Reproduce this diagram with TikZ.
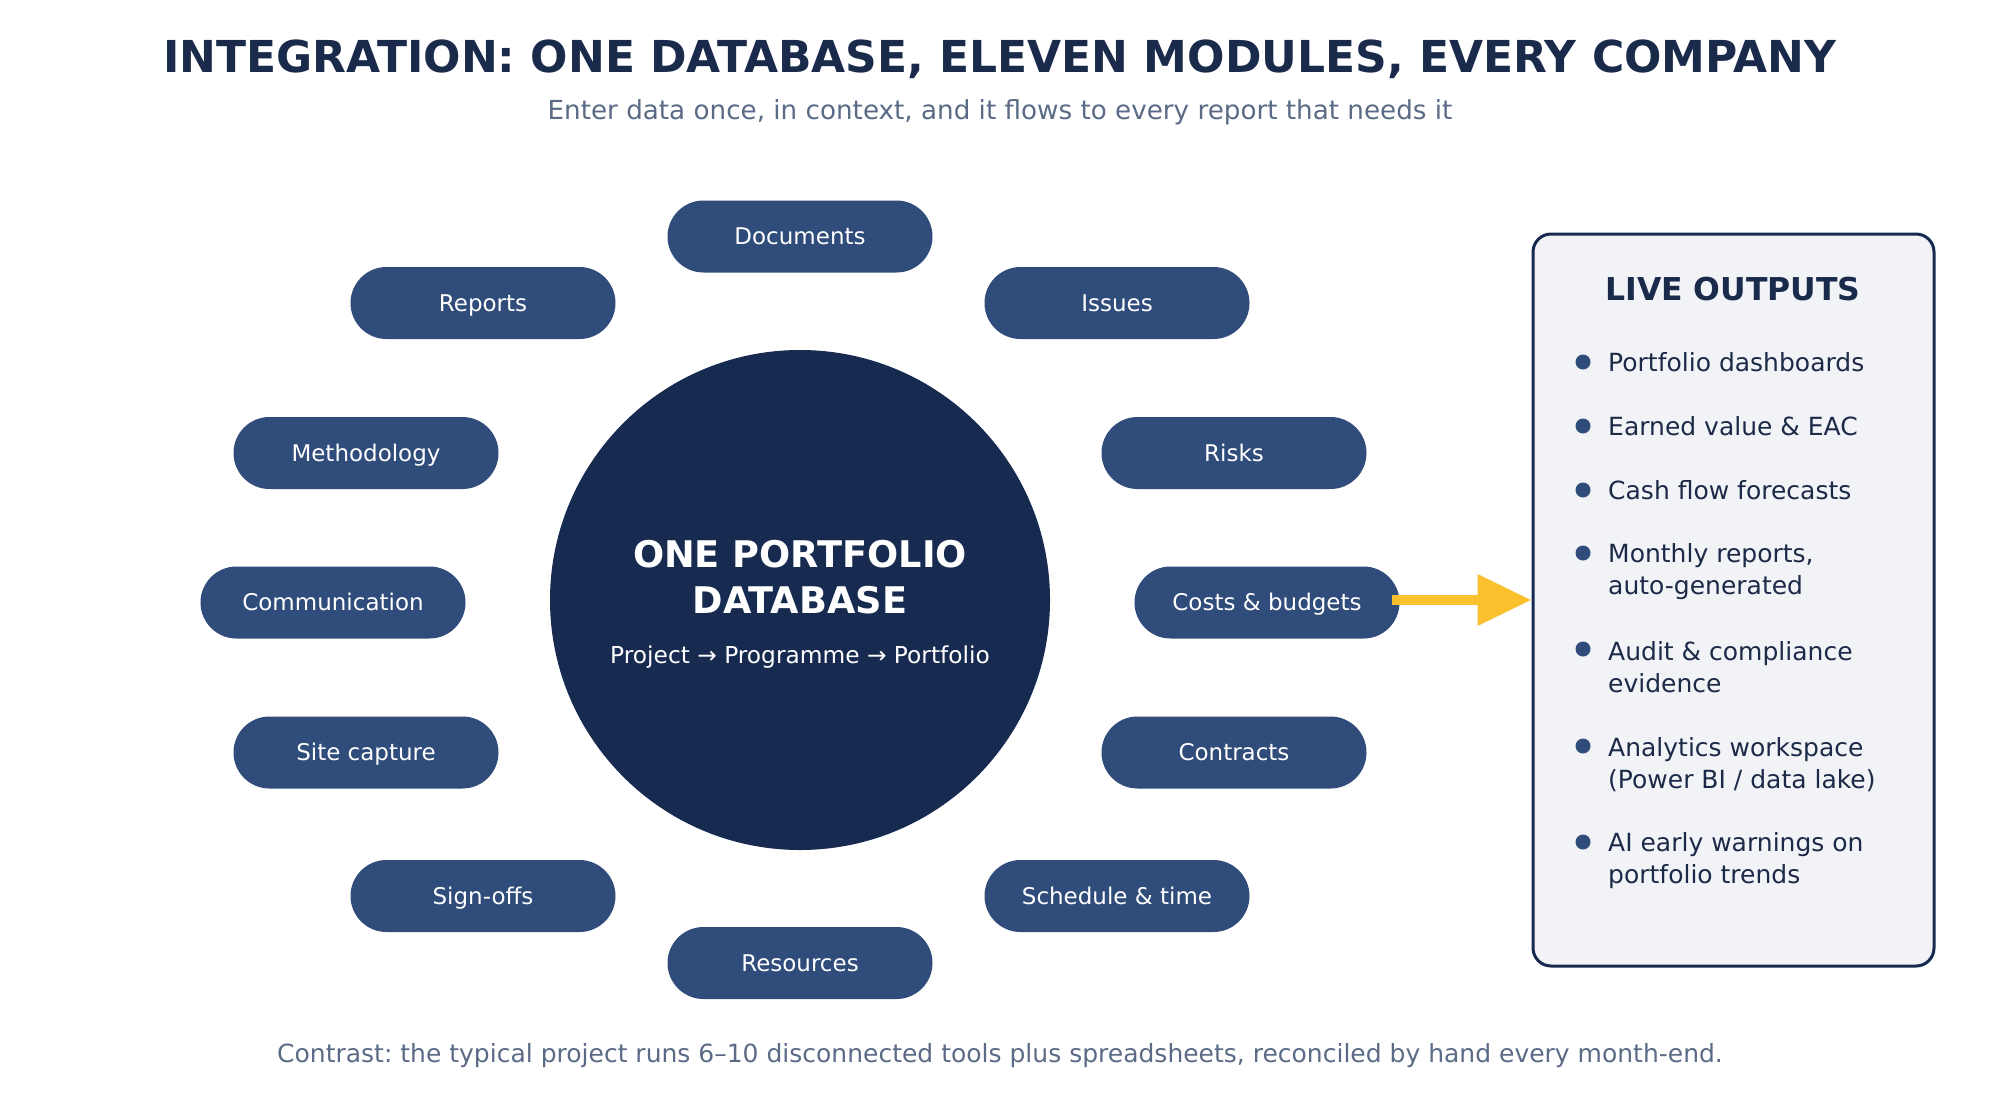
\documentclass[tikz,border=0pt]{standalone}
\usepackage{fontspec}
\setmainfont{DejaVu Sans}
\usetikzlibrary{arrows.meta}
\frenchspacing
\definecolor{navy}{HTML}{172A4F}
\definecolor{pillc}{HTML}{2F4C7A}
\definecolor{titlec}{HTML}{1A2A4B}
\definecolor{subc}{HTML}{5B6B86}
\definecolor{boxfill}{HTML}{F1F3F7}
\definecolor{itemc}{HTML}{1C2A48}
\definecolor{arrowc}{HTML}{FBC02D}
\tikzset{
  pill/.style={rectangle, rounded corners=36pt, fill=pillc, minimum width=265pt, minimum height=72pt, inner sep=0pt, text=white, text height=16.8pt, text depth=0pt, font=\fontsize{23}{27}\selectfont},
  itemtext/.style={anchor=west, inner sep=0pt, align=left, text=itemc, font=\fontsize{25}{32}\selectfont},
  dot/.style={circle, fill=pillc, minimum size=15pt, inner sep=0pt},
}
\begin{document}
\begin{tikzpicture}[x=1pt,y=-1pt]
\useasboundingbox[fill=white] (0,0) rectangle (2000,1100);
% titles
\node[text=titlec, font=\fontsize{44}{50}\bfseries\selectfont] (title) at (1000,59.5) {INTEGRATION: ONE DATABASE, ELEVEN MODULES, EVERY COMPANY};
\node[text=subc, font=\fontsize{26.2}{30}\selectfont] (subtitle) at (1000,112) {Enter data once, in context, and it flows to every report that needs it};
\node[text=subc, font=\fontsize{25}{30}\selectfont] (footer) at (1000,1055.5) {Contrast: the typical project runs 6–10 disconnected tools plus spreadsheets, reconciled by hand every month-end.};
% centre
\node[circle, fill=navy, minimum size=500pt, inner sep=0pt] (db) at (800,600) {};
\node[text=white, align=center, font=\fontsize{36.7}{46}\bfseries\selectfont] (dbtitle) at (800,577) {ONE PORTFOLIO\\DATABASE};
\node[text=white, font=\fontsize{23.3}{27}\selectfont] (dbsub) at (800,657) {Project → Programme → Portfolio};
% modules
\node[pill] (documents) at (800,236.5) {Documents};
\node[pill] (reports) at (483,303) {Reports};
\node[pill] (issues) at (1117,303) {Issues};
\node[pill] (methodology) at (366,453) {Methodology};
\node[pill] (risks) at (1234,453) {Risks};
\node[pill] (communication) at (333,602.5) {Communication};
\node[pill] (costs) at (1267,602.5) {Costs \& budgets};
\node[pill] (site) at (366,752.5) {Site capture};
\node[pill] (contracts) at (1234,752.5) {Contracts};
\node[pill] (signoffs) at (483,896) {Sign-offs};
\node[pill] (schedule) at (1117,896) {Schedule \& time};
\node[pill] (resources) at (800,963) {Resources};
% outputs box
\node[draw=navy, line width=3pt, fill=boxfill, rounded corners=18pt, minimum width=401pt, minimum height=732pt, inner sep=0pt] (box) at (1733.5,600) {};
\node[text=titlec, font=\fontsize{31.5}{36}\bfseries\selectfont, text height=23pt, text depth=0pt, inner sep=0pt] (boxtitle) at (1733,289) {LIVE OUTPUTS};
\node[dot] (d1) at (1583,362) {};
\node[itemtext] (i1) at (1608,362.5) {Portfolio dashboards};
\node[dot] (d2) at (1583,426) {};
\node[itemtext] (i2) at (1608,426.5) {Earned value \& EAC};
\node[dot] (d3) at (1583,490) {};
\node[itemtext] (i3) at (1608,490.5) {Cash flow forecasts};
\node[dot] (d4) at (1583,553) {};
\node[itemtext] (i4) at (1608,571.5) {Monthly reports,\\auto-generated};
\node[dot] (d5) at (1583,649) {};
\node[itemtext] (i5) at (1608,667.5) {Audit \& compliance\\evidence};
\node[dot] (d6) at (1583,746) {};
\node[itemtext] (i6) at (1608,764.5) {Analytics workspace\\(Power BI / data lake)};
\node[dot] (d7) at (1583,842) {};
\node[itemtext] (i7) at (1608,860.5) {AI early warnings on\\portfolio trends};
% arrow
\draw[arrowc, line width=10pt, -{Triangle[length=54pt,width=49pt]}] ([xshift=-8pt]costs.east |- box.west) -- (box.west);
\end{tikzpicture}
\end{document}
